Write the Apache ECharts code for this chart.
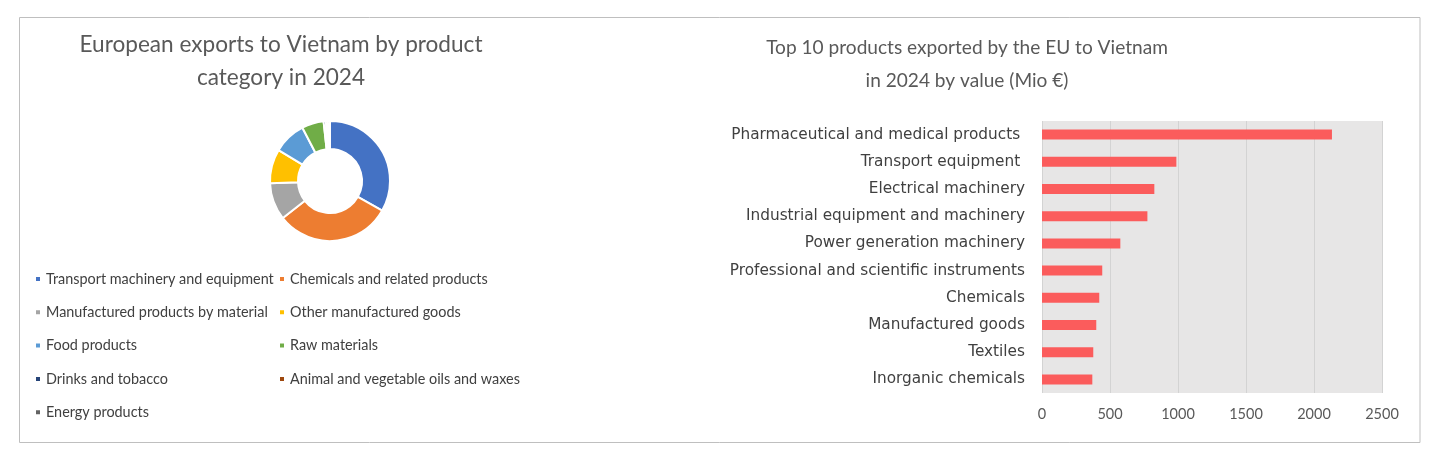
<!DOCTYPE html>
<html><head><meta charset="utf-8">
<script src="https://cdn.jsdelivr.net/npm/echarts@6/dist/echarts.min.js"></script>
<style>html,body{margin:0;padding:0;background:#fff}#c{width:1434px;height:458px}</style>
</head><body><div id="c"></div>
<script>
const pieCategories = ['Transport machinery and equipment','Chemicals and related products','Manufactured products by material','Other manufactured goods','Food products','Raw materials','Drinks and tobacco','Animal and vegetable oils and waxes','Energy products'];
const pieValues = [33.2, 31.2, 10.0, 9.2, 8.8, 5.9, 0.6, 0.55, 0.55];
const pieColors = ['#4472c4','#ed7d31','#a5a5a5','#ffc000','#5b9bd5','#70ad47','#264478','#9e480e','#636363'];
const barCategories = ['Pharmaceutical and medical products ','Transport equipment ','Electrical machinery','Industrial equipment and machinery','Power generation machinery','Professional and scientific instruments','Chemicals','Manufactured goods','Textiles','Inorganic chemicals'];
const barValues = [2132, 988, 826, 775, 576, 443, 421, 399, 377, 370];
const xTicks = [0, 500, 1000, 1500, 2000, 2500];

const chart = echarts.init(document.getElementById('c'), null, {renderer:'canvas'});
const col1 = [0,2,4,6,8].map(i=>pieCategories[i]);
const col2 = [1,3,5,7].map(i=>pieCategories[i]);
const legendBase = {
  orient:'vertical', icon:'rect', itemWidth:6, itemHeight:6, itemGap:13.3, padding:0,
  textStyle:{fontFamily:'Lato', fontSize:14.4, color:'#404040', lineHeight:20},
  selectedMode:false
};
chart.setOption({
  animation:false,
  textStyle:{fontFamily:'Lato'},
  graphic:[{type:'rect', shape:{x:19.5,y:17.5,width:1400.5,height:425}, style:{fill:'none', stroke:'#bfbfbf', lineWidth:1}, silent:true}],
  title:[
    {text:'European exports to Vietnam by product\ncategory in 2024', left:281, top:28, padding:0, textAlign:'center',
     textStyle:{fontFamily:'Lato', fontSize:22.6, fontWeight:'normal', color:'#595959', lineHeight:33}},
    {text:'Top 10 products exported by the EU to Vietnam\nin 2024 by value (Mio €)', left:967, top:31, padding:0, textAlign:'center',
     textStyle:{fontFamily:'Lato', fontSize:19.1, fontWeight:'normal', color:'#595959', lineHeight:33}}
  ],
  color: pieColors,
  legend:[
    Object.assign({}, legendBase, {left:34, top:269, data:col1}),
    Object.assign({}, legendBase, {left:278, top:269, data:col2})
  ],
  grid:{left:1042, right:52, top:121, bottom:65, show:true, backgroundColor:'#e7e6e6', borderWidth:0},
  xAxis:{type:'value', min:0, max:2500, interval:500,
    axisLine:{show:false}, axisTick:{show:false},
    splitLine:{lineStyle:{color:'#d3d3d3', width:1}},
    axisLabel:{fontFamily:'Lato', fontSize:14.5, color:'#595959', margin:14,
      formatter:v=> xTicks.includes(v) ? String(v) : ''}},
  yAxis:{type:'category', inverse:true, data:barCategories,
    axisLine:{show:false}, axisTick:{show:false},
    axisLabel:{fontFamily:'DejaVu Sans', fontSize:15.3, color:'#404040', margin:17}},
  series:[
    {type:'pie', center:[330,181], radius:[32,60], startAngle:90, clockwise:true,
     label:{show:false}, labelLine:{show:false}, silent:true,
     itemStyle:{borderColor:'#fff', borderWidth:2},
     data: pieCategories.map((n,i)=>({name:n, value:pieValues[i], itemStyle:{color:pieColors[i]}}))},
    {type:'bar', data:barValues, barWidth:10, itemStyle:{color:'#fb5c5c'}, silent:true}
  ]
});
</script></body></html>
